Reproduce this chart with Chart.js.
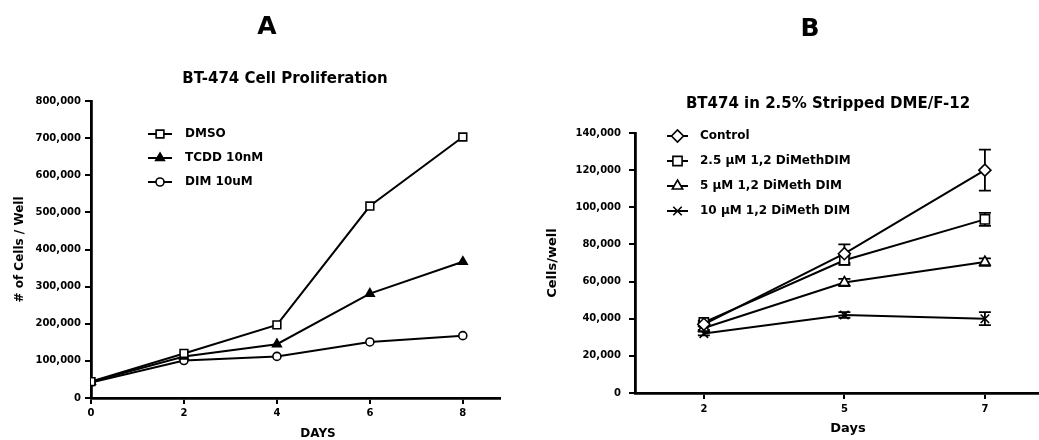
<!DOCTYPE html>
<html><head><meta charset="utf-8">
<script src="https://cdn.jsdelivr.net/npm/chart.js@4/dist/chart.umd.min.js"></script>
<style>
html,body{margin:0;padding:0;background:#fff;}
#wrap{position:relative;width:1039px;height:440px;overflow:hidden;background:#fff;}
.t{position:absolute;font-family:"DejaVu Sans";font-weight:bold;color:#000;line-height:1;white-space:nowrap;transform:translateX(-50%);}
#ca{position:absolute;left:0;top:0;width:520px;height:440px;}
#cb{position:absolute;left:520px;top:0;width:519px;height:440px;}
</style></head><body>
<div id="wrap">
<canvas id="ca" width="520" height="440"></canvas>
<canvas id="cb" width="519" height="440"></canvas>
<div class="t" style="left:267px;top:13px;font-size:25px">A</div>
<div class="t" style="left:810px;top:15px;font-size:25px">B</div>
<div class="t" style="left:285px;top:71px;font-size:15px">BT-474 Cell Proliferation</div>
<div class="t" style="left:828px;top:96px;font-size:15px">BT474 in 2.5% Stripped DME/F-12</div>
<div class="t" style="left:318px;top:427px;font-size:12px">DAYS</div>
<div class="t" style="left:848px;top:421px;font-size:13px">Days</div>
</div>
<script>
// ---- Panel A data ----
const daysA = [0, 2, 4, 6, 8];
const dmso = [44000, 120000, 197000, 517000, 703000];
const tcdd = [44000, 112000, 145000, 281000, 367000];
const dim10 = [42000, 101000, 112000, 151000, 168000];
const yTicksA = [0, 100000, 200000, 300000, 400000, 500000, 600000, 700000, 800000];

// ---- Panel B data ----
const daysB = ['2', '5', '7'];
const control = [37000, 75000, 120000];
const controlErr = [1000, 5000, 11000];
const dm25 = [38000, 71500, 93500];
const dm25Err = [1000, 2500, 3500];
const dm5 = [35000, 59500, 70500];
const dm5Err = [1000, 2000, 2000];
const dm10 = [32000, 42000, 40000];
const dm10Err = [1000, 1500, 3500];
const yTicksB = [0, 20000, 40000, 60000, 80000, 100000, 120000, 140000];

Chart.defaults.font.family = '"DejaVu Sans"';
Chart.defaults.font.weight = 'bold';
Chart.defaults.font.size = 10;
Chart.defaults.color = '#000';

function fmt(v){ return Number(v).toLocaleString('en-US'); }

function drawMarker(ctx, style, r, x, y, fill, bw){
  ctx.save();
  ctx.lineWidth = bw; ctx.strokeStyle = '#000'; ctx.fillStyle = fill;
  if (Chart.helpers && Chart.helpers.drawPoint) {
    Chart.helpers.drawPoint(ctx, {pointStyle: style, radius: r, rotation: 0, borderWidth: bw}, x, y);
  }
  ctx.restore();
}

const keyPlugin = {
  id: 'seriesKey',
  afterDatasetsDraw(chart, args, o) {
    const ctx = chart.ctx;
    chart.data.datasets.forEach((ds, i) => {
      const y = o.y0 + i * o.gap;
      ctx.save();
      ctx.strokeStyle = '#000'; ctx.lineWidth = ds.borderWidth;
      ctx.beginPath(); ctx.moveTo(o.x0, y); ctx.lineTo(o.x1, y); ctx.stroke();
      ctx.restore();
      drawMarker(ctx, ds.pointStyle, ds.pointRadius, (o.x0 + o.x1) / 2, y, ds.pointBackgroundColor, ds.pointBorderWidth);
      ctx.save();
      ctx.fillStyle = '#000';
      ctx.font = 'bold ' + o.size + 'px "DejaVu Sans"';
      ctx.textBaseline = 'middle'; ctx.textAlign = 'left';
      ctx.fillText(ds.label, o.tx, y);
      ctx.restore();
    });
  }
};

const errPlugin = {
  id: 'errBars',
  beforeDatasetsDraw(chart) {
    const ctx = chart.ctx, xs = chart.scales.x, ys = chart.scales.y;
    chart.data.datasets.forEach((ds) => {
      if (!ds.errors) return;
      ctx.save();
      ctx.strokeStyle = '#000'; ctx.lineWidth = 1.8;
      ds.data.forEach((p, j) => {
        const e = ds.errors[j];
        const x = xs.getPixelForValue(p.x);
        const yt = ys.getPixelForValue(p.y + e), yb = ys.getPixelForValue(p.y - e);
        ctx.beginPath();
        ctx.moveTo(x, yt); ctx.lineTo(x, yb);
        ctx.moveTo(x - 6, yt); ctx.lineTo(x + 6, yt);
        ctx.moveTo(x - 6, yb); ctx.lineTo(x + 6, yb);
        ctx.stroke();
      });
      ctx.restore();
    });
  }
};

function axisCommon(){
  return {
    grid: {drawOnChartArea: false, drawTicks: true, tickLength: 6, color: '#000', lineWidth: 2},
    border: {display: true, color: '#000', width: 2.8},
    ticks: {color: '#000', font: {size: 10, weight: 'bold'}, maxRotation: 0, autoSkip: false}
  };
}

function ser(label, xs, ys, style, r, fill, errs){
  const d = {
    label: label,
    data: xs.map((x, i) => ({x: x, y: ys[i]})),
    borderColor: '#000', borderWidth: 2, tension: 0, fill: false,
    pointStyle: style, pointRadius: r, pointHoverRadius: r,
    pointBackgroundColor: fill, pointBorderColor: '#000', pointBorderWidth: 1.6
  };
  if (errs) d.errors = errs;
  return d;
}

// ---------- Chart A ----------
const xA = axisCommon();
const yA = axisCommon();
new Chart(document.getElementById('ca'), {
  type: 'line',
  data: {datasets: [
    ser('DMSO', daysA, dmso, 'rect', 5.5, '#fff'),
    ser('TCDD 10nM', daysA, tcdd, 'triangle', 5, '#000'),
    ser('DIM 10uM', daysA, dim10, 'circle', 4, '#fff')
  ]},
  options: {
    responsive: false, animation: false, events: [],
    layout: {autoPadding: false, padding: {left: 0, top: 101, right: 20, bottom: 0}},
    plugins: {legend: {display: false}, tooltip: {enabled: false},
      seriesKey: {x0: 148, x1: 172, tx: 185, y0: 134, gap: 24, size: 12}},
    scales: {
      x: Object.assign(xA, {
        type: 'linear', min: 0, max: 8.8,
        afterBuildTicks: s => { s.ticks = daysA.map(v => ({value: v})); },
        afterFit: s => { s.height = 42; s.paddingLeft = 0; s.paddingRight = 0; },
        ticks: Object.assign(xA.ticks, {padding: 3, callback: v => String(v)}),
        title: {display: false}
      }),
      y: Object.assign(yA, {
        type: 'linear', min: 0, max: 800000,
        afterBuildTicks: s => { s.ticks = yTicksA.map(v => ({value: v})); },
        afterFit: s => { s.width = 91; },
        ticks: Object.assign(yA.ticks, {padding: 4, callback: v => fmt(v)}),
        title: {display: true, text: '# of Cells / Well', color: '#000', font: {size: 12, weight: 'bold'}, padding: {top: 13, bottom: 0}}
      })
    }
  },
  plugins: [keyPlugin]
});

// ---------- Chart B ----------
const xB = axisCommon();
const yB = axisCommon();
const idxB = daysB.map((d, i) => i);
new Chart(document.getElementById('cb'), {
  type: 'line',
  data: {datasets: [
    ser('Control', idxB, control, 'rectRot', 6, '#fff', controlErr),
    ser('2.5 \u00b5M 1,2 DiMethDIM', idxB, dm25, 'rect', 6.5, '#fff', dm25Err),
    ser('5 \u00b5M 1,2 DiMeth DIM', idxB, dm5, 'triangle', 6, '#fff', dm5Err),
    ser('10 \u00b5M 1,2 DiMeth DIM', idxB, dm10, 'crossRot', 6, '#fff', dm10Err)
  ]},
  options: {
    responsive: false, animation: false, events: [],
    layout: {autoPadding: false, padding: {left: 0, top: 133, right: 0, bottom: 0}},
    plugins: {legend: {display: false}, tooltip: {enabled: false},
      seriesKey: {x0: 147, x1: 168, tx: 180, y0: 136, gap: 25, size: 12}},
    scales: {
      x: Object.assign(xB, {
        type: 'linear', min: -0.49, max: 2.385,
        afterBuildTicks: s => { s.ticks = idxB.map(v => ({value: v})); },
        afterFit: s => { s.height = 47; s.paddingLeft = 0; s.paddingRight = 0; },
        ticks: Object.assign(xB.ticks, {padding: 4, callback: v => daysB[v]}),
        title: {display: false}
      }),
      y: Object.assign(yB, {
        type: 'linear', min: 0, max: 140000,
        afterBuildTicks: s => { s.ticks = yTicksB.map(v => ({value: v})); },
        afterFit: s => { s.width = 115; },
        ticks: Object.assign(yB.ticks, {padding: 8, callback: v => fmt(v)}),
        title: {display: true, text: 'Cells/well', color: '#000', font: {size: 13, weight: 'bold'}, padding: {top: 25, bottom: 0}}
      })
    }
  },
  plugins: [keyPlugin, errPlugin]
});
</script>
</body></html>
